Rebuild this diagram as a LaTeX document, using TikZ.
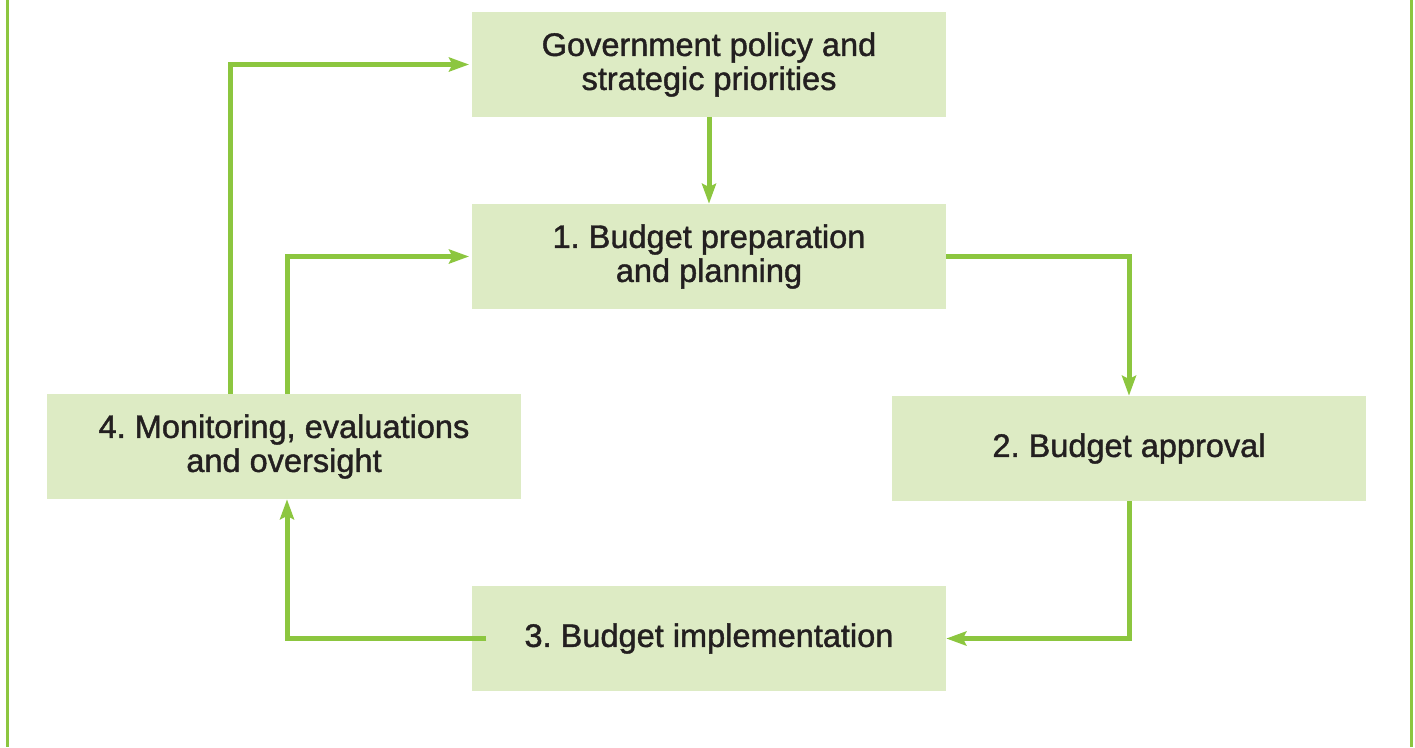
\documentclass[tikz,border=0pt]{standalone}
\usepackage{fontspec}
\setmainfont{Liberation Sans}
\newfontfamily\medfont{Liberation Sans}[FakeBold=1.3]
\usetikzlibrary{arrows.meta}
\definecolor{lgreen}{HTML}{8CC63F}
\definecolor{boxfill}{HTML}{DDEBC4}
\definecolor{txt}{HTML}{231F20}
\tikzset{
  box/.style={fill=boxfill, draw=none, minimum width=355.5pt, minimum height=78.75pt,
    align=center, font=\medfont\fontsize{24.4}{25.5}\selectfont\frenchspacing, text=txt, inner sep=0pt},
  arr/.style={draw=lgreen, line width=3.75pt, -{Stealth[length=15pt,width=10.5pt,inset=2.5pt]}},
  frame/.style={draw=lgreen, line width=2.25pt}
}
\begin{document}
\begin{tikzpicture}[x=0.75pt,y=-0.75pt]
\useasboundingbox (0,0) rectangle (1415,747);
\coordinate (fl1) at (7,0); \coordinate (fl2) at (7,747);
\coordinate (fr1) at (1411,0); \coordinate (fr2) at (1411,747);
\draw[frame] (fl1) -- (fl2);
\draw[frame] (fr1) -- (fr2);
\node[box] (gov) at (709,64.5) {Government policy and\\strategic priorities};
\node[box] (b1) at (709,256.5) {1. Budget preparation\\and planning};
\node[box] (b2) at (1129,448.5) {2. Budget approval};
\node[box] (b3) at (709,638.5) {3. Budget implementation};
\node[box] (b4) at (284,446.5) {4. Monitoring, evaluations\\and oversight};
\draw[arr] (gov) -- (b1);
\draw[arr] (b1.east) -| (b2.north);
\draw[arr] (b2.south) |- (b3.east);
\draw[arr] ([xshift=11pt]b3.west) -| ([xshift=2.25pt]b4.south);
\draw[arr, shorten >=2pt] ([xshift=2.25pt]b4.north) |- (b1.west);
\draw[arr, shorten >=2pt] ([xshift=-40.5pt]b4.north) |- (gov.west);
\end{tikzpicture}
\end{document}
